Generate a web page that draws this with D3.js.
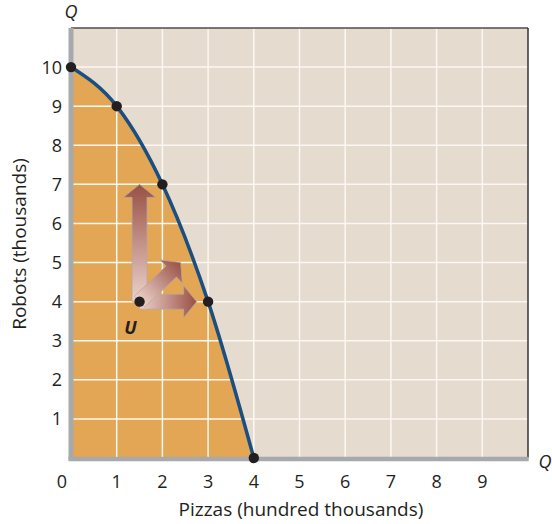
<!DOCTYPE html>
<html>
<head>
<meta charset="utf-8">
<script src="https://cdn.jsdelivr.net/npm/d3@7"></script>
<style>
  body { margin: 0; background: #fff; }
  text { font-family: "Open Sans", Lato, sans-serif; fill: #231f20; }
</style>
</head>
<body>
<svg id="chart"></svg>
<script>
// production possibilities frontier
var pizzas = [0, 1, 2, 3, 4];
var robots = [10, 9, 7, 4, 0];

var xTicks = [0, 1, 2, 3, 4, 5, 6, 7, 8, 9];
var yTicks = [1, 2, 3, 4, 5, 6, 7, 8, 9, 10];

// point U and where its arrows point
var pointU = [1.5, 4];
var arrowEnds = [[1.5, 7], [2.75, 4], [2.4, 5]];

var screen = { width: 552, height: 524 };
var margins = { left: 71, right: 24, top: 28, bottom: 66 };
var graph = {
    width: screen.width - margins.left - margins.right,
    height: screen.height - margins.top - margins.bottom
};

var svg = d3.select("#chart")
    .attr("width", screen.width)
    .attr("height", screen.height);

var xScale = d3.scaleLinear().domain([0, 10]).range([0, graph.width]);
var yScale = d3.scaleLinear().domain([0, 11]).range([graph.height, 0]);

var target = svg.append("g")
    .attr("transform", "translate(" + margins.left + "," + margins.top + ")");

// background
target.append("rect")
    .attr("width", graph.width)
    .attr("height", graph.height)
    .attr("fill", "#e5dbcf");

var points = pizzas.map(function (p, i) { return [p, robots[i]]; });

var area = d3.area()
    .x(function (d) { return xScale(d[0]); })
    .y0(yScale(0))
    .y1(function (d) { return yScale(d[1]); })
    .curve(d3.curveMonotoneX);

target.append("path")
    .datum(points)
    .attr("d", area)
    .attr("fill", "#e2a655");

// grid
target.selectAll("line.vgrid")
    .data(xTicks.slice(1))
    .enter().append("line")
    .attr("x1", function (d) { return xScale(d); })
    .attr("x2", function (d) { return xScale(d); })
    .attr("y1", 0)
    .attr("y2", graph.height)
    .attr("stroke", "#fbf7f2")
    .attr("stroke-width", 1.5);

target.selectAll("line.hgrid")
    .data(yTicks)
    .enter().append("line")
    .attr("x1", 0)
    .attr("x2", graph.width)
    .attr("y1", function (d) { return yScale(d); })
    .attr("y2", function (d) { return yScale(d); })
    .attr("stroke", "#fbf7f2")
    .attr("stroke-width", 1.5);

// frame
target.append("line")
    .attr("x1", 0).attr("x2", graph.width)
    .attr("y1", 0).attr("y2", 0)
    .attr("stroke", "#4d4d4d").attr("stroke-width", 1.5);
target.append("line")
    .attr("x1", graph.width).attr("x2", graph.width)
    .attr("y1", 0).attr("y2", graph.height)
    .attr("stroke", "#333").attr("stroke-width", 1.5);
target.append("line")
    .attr("x1", 0).attr("x2", 0)
    .attr("y1", 0).attr("y2", graph.height + 2)
    .attr("stroke", "#a7a9ac").attr("stroke-width", 5);
target.append("line")
    .attr("x1", -2.5).attr("x2", graph.width + 0.75)
    .attr("y1", graph.height + 1).attr("y2", graph.height + 1)
    .attr("stroke", "#a7a9ac").attr("stroke-width", 4.5);

// arrows from U
var defs = svg.append("defs");
var shaft = 7.5, head = 16, headLen = 13;
var u = [xScale(pointU[0]), yScale(pointU[1])];

arrowEnds.forEach(function (end, i) {
    var e = [xScale(end[0]), yScale(end[1])];
    var dx = e[0] - u[0], dy = e[1] - u[1];
    var len = Math.sqrt(dx * dx + dy * dy);
    var ux = dx / len, uy = dy / len;
    var nx = -uy, ny = ux;
    var b = [e[0] - ux * headLen, e[1] - uy * headLen];
    var poly = [
        [u[0] + nx * shaft, u[1] + ny * shaft],
        [b[0] + nx * shaft, b[1] + ny * shaft],
        [b[0] + nx * head, b[1] + ny * head],
        e,
        [b[0] - nx * head, b[1] - ny * head],
        [b[0] - nx * shaft, b[1] - ny * shaft],
        [u[0] - nx * shaft, u[1] - ny * shaft]
    ];
    var grad = defs.append("linearGradient")
        .attr("id", "arrowGrad" + i)
        .attr("gradientUnits", "userSpaceOnUse")
        .attr("x1", u[0]).attr("y1", u[1])
        .attr("x2", e[0]).attr("y2", e[1]);
    grad.append("stop").attr("offset", "0%").attr("stop-color", "#ecd2cb");
    grad.append("stop").attr("offset", "100%").attr("stop-color", "#995045");

    target.append("path")
        .attr("d", d3.line()(poly) + "Z")
        .attr("fill", "url(#arrowGrad" + i + ")")
        .attr("stroke", "#b9a79c")
        .attr("stroke-width", 0.8);
});

// frontier
var line = d3.line()
    .x(function (d) { return xScale(d[0]); })
    .y(function (d) { return yScale(d[1]); })
    .curve(d3.curveMonotoneX);

target.append("path")
    .datum(points)
    .attr("d", line)
    .attr("fill", "none")
    .attr("stroke", "#1b4f80")
    .attr("stroke-width", 3.5);

target.selectAll("circle.pt")
    .data(points.concat([pointU]))
    .enter().append("circle")
    .attr("cx", function (d) { return xScale(d[0]); })
    .attr("cy", function (d) { return yScale(d[1]); })
    .attr("r", 5.2)
    .attr("fill", "#231f20");

target.append("text")
    .text("U")
    .attr("x", xScale(pointU[0]) - 9)
    .attr("y", yScale(pointU[1]) + 32)
    .attr("text-anchor", "middle")
    .style("font-size", "18px")
    .style("font-weight", "bold")
    .style("font-style", "italic");

// tick labels
target.selectAll("text.xt")
    .data(xTicks)
    .enter().append("text")
    .text(function (d) { return d; })
    .attr("x", function (d) { return d === 0 ? xScale(d) - 9 : xScale(d); })
    .attr("y", graph.height + 30)
    .attr("text-anchor", "middle")
    .style("font-size", "18px");

target.selectAll("text.yt")
    .data(yTicks)
    .enter().append("text")
    .text(function (d) { return d; })
    .attr("x", -9)
    .attr("y", function (d) { return yScale(d) + 6.5; })
    .attr("text-anchor", "end")
    .style("font-size", "18px");

// Q labels
target.append("text")
    .text("Q")
    .attr("x", 0)
    .attr("y", -10)
    .attr("text-anchor", "middle")
    .style("font-size", "18px")
    .style("font-style", "italic");
target.append("text")
    .text("Q")
    .attr("x", graph.width + 17)
    .attr("y", graph.height + 10)
    .attr("text-anchor", "middle")
    .style("font-size", "18px")
    .style("font-style", "italic");

// axis titles
svg.append("text")
    .text("Pizzas (hundred thousands)")
    .attr("x", 301)
    .attr("y", 516)
    .attr("text-anchor", "middle")
    .style("font-size", "19px");

svg.append("g")
    .attr("transform", "translate(26," + 244 + ")")
    .append("text")
    .text("Robots (thousands)")
    .attr("text-anchor", "middle")
    .attr("transform", "rotate(-90)")
    .style("font-size", "19px");
</script>
</body>
</html>
